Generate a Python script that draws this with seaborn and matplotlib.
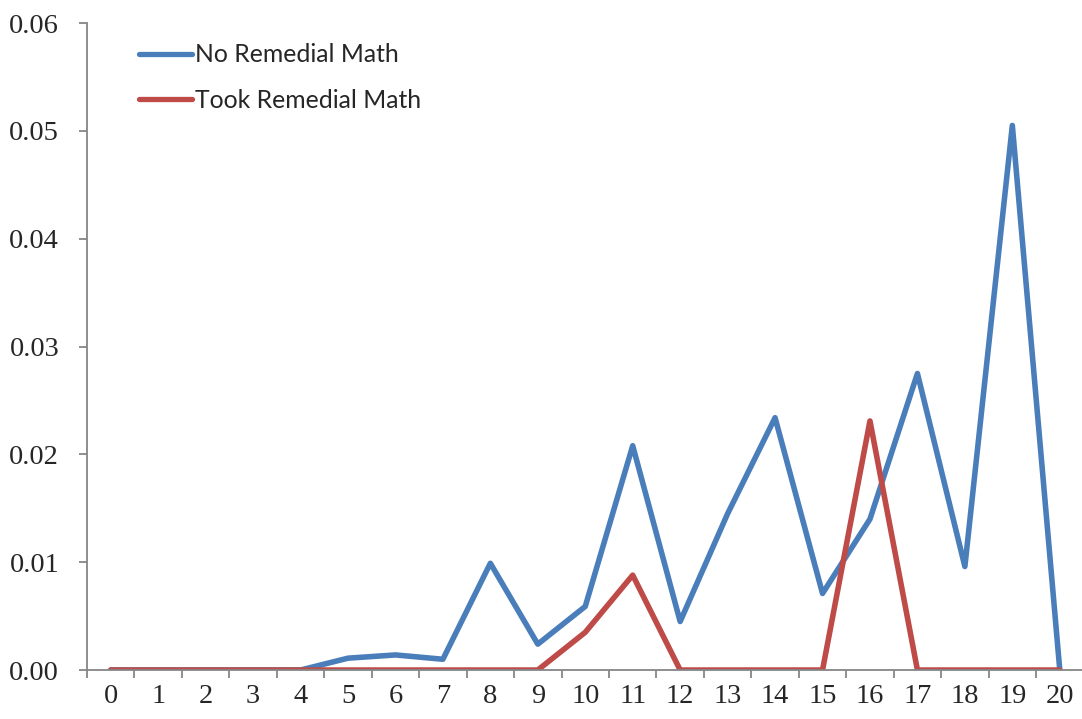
import matplotlib.pyplot as plt
import numpy as np
import pandas as pd
import seaborn as sns

# ── Data ────────────────────────────────────────────────────────────────
categories = list(range(21))
no_remedial = [0, 0, 0, 0, 0, 0.0011, 0.0014, 0.0010, 0.0099, 0.0024, 0.0059,
               0.0208, 0.0045, 0.0145, 0.0234, 0.0071, 0.0140, 0.0275, 0.0096,
               0.0505, 0]
took_remedial = [0, 0, 0, 0, 0, 0, 0, 0, 0, 0, 0.0035,
                 0.0088, 0, 0, 0, 0, 0.0231, 0, 0, 0, 0]
series_names = ["No Remedial Math", "Took Remedial Math"]
y_ticks = [0.00, 0.01, 0.02, 0.03, 0.04, 0.05, 0.06]
y_tick_labels = ["0.00", "0.01", "0.02", "0.03", "0.04", "0.05", "0.06"]

COLORS = {"No Remedial Math": "#4A7EBB", "Took Remedial Math": "#BE4B48"}

df = pd.concat([
    pd.DataFrame({"x": categories, "y": no_remedial, "series": series_names[0]}),
    pd.DataFrame({"x": categories, "y": took_remedial, "series": series_names[1]}),
])

sns.set_style("white")

fig = plt.figure(figsize=(10.82, 7.19), dpi=100)
ax = fig.add_axes([0.0804, 0.0681, 0.921, 0.8999])

sns.lineplot(data=df, x="x", y="y", hue="series", palette=COLORS,
             linewidth=4.0, ax=ax, legend=False, sort=False,
             solid_capstyle="round", solid_joinstyle="round")

ax.set_xlim(-0.5, 20.5)
ax.set_ylim(0, 0.06)
ax.set_xlabel("")
ax.set_ylabel("")

# category axis: ticks between categories, labels at centres
ax.set_xticks(np.arange(-0.5, 21, 1.0))
ax.set_xticklabels([])
ax.set_xticks(categories, minor=True)
ax.set_xticklabels([str(c) for c in categories], minor=True,
                   family="Liberation Serif", fontsize=20.5)
ax.tick_params(axis="x", which="major", direction="out", length=6, width=1.3,
               color="#868686", bottom=True)
ax.tick_params(axis="x", which="minor", length=0, pad=10)

ax.set_yticks(y_ticks)
ax.set_yticklabels(y_tick_labels, family="Liberation Serif", fontsize=20.5)
ax.tick_params(axis="y", direction="out", length=6, width=1.3,
               color="#868686", left=True, pad=14)

for side in ("top", "right"):
    ax.spines[side].set_visible(False)
for side in ("left", "bottom"):
    ax.spines[side].set_color("#868686")
    ax.spines[side].set_linewidth(1.3)

handles = [plt.Line2D([], [], color=COLORS[s], lw=3.8, solid_capstyle="round")
           for s in series_names]
ax.legend(handles, series_names, loc="upper left", bbox_to_anchor=(0.03, 1.003),
          frameon=False, handlelength=2.15, handletextpad=0.12, labelspacing=0.92,
          prop={"family": "Lato", "size": 17.8})

fig.savefig("out.png", dpi=100)
